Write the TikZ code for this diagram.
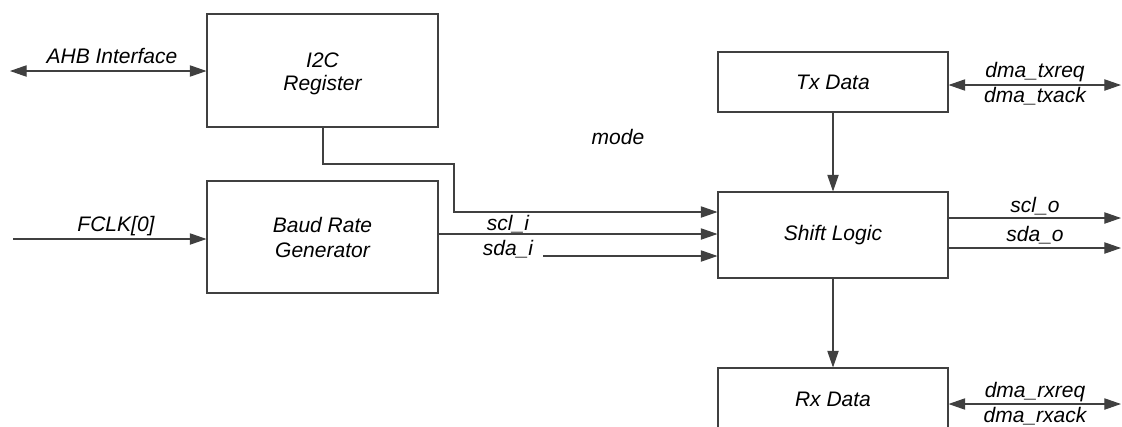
\documentclass[tikz,border=0pt]{standalone}
\usepackage{fontspec}
\setmainfont{Liberation Sans}
\usetikzlibrary{arrows.meta}
\tikzset{
  ln/.style={draw=black!75, line width=0.8pt},
  arr/.style={ln, -{Triangle[length=12.5pt,width=8.5pt]}},
  biarr/.style={ln, {Triangle[length=12.5pt,width=8.5pt]}-{Triangle[length=12.5pt,width=8.5pt]}},
  blk/.style={ln, fill=white, rectangle, inner sep=0pt, align=center, font=\itshape},
  lbl/.style={anchor=base, inner sep=0pt, font=\itshape}
}
\begin{document}
\begin{tikzpicture}[x=0.75pt, y=-0.75pt]
\fontsize{15.75}{18.75}\selectfont
\useasboundingbox (0,0) rectangle (1122,426);
\clip (0,0) rectangle (1122,426);
% blocks
\node[blk, minimum width=231*0.75pt, minimum height=113*0.75pt] (i2c) at (322.5,70.5) {};
\node[blk, minimum width=231*0.75pt, minimum height=112*0.75pt] (baud) at (322.5,237) {Baud Rate\\Generator};
\node[blk, minimum width=230*0.75pt, minimum height=60*0.75pt] (tx) at (833,82) {Tx Data};
\node[blk, minimum width=230*0.75pt, minimum height=86*0.75pt] (shift) at (833,235) {Shift Logic};
\node[blk, minimum width=230*0.75pt, minimum height=62*0.75pt] (rx) at (833,399) {Rx Data};
\node[lbl] (li2c) at (322.5,67) {I2C};
\node[lbl] (lreg) at (322.5,90) {Register};
% free ends
\coordinate (ahb) at (10,71);
\coordinate (fclk) at (13,239);
\coordinate (mA) at (323,164);
\coordinate (mB) at (454,212);
\coordinate (sclA) at (0,234);
\coordinate (sdaA) at (543,256);
\coordinate (txR) at (1121,85);
\coordinate (rxR) at (1121,404);
\coordinate (sclO) at (1121,218);
\coordinate (sdaO) at (1121,248);
% connectors
\draw[biarr] (ahb) -- (i2c.west |- ahb);
\draw[arr] (fclk) -- (baud.west |- fclk);
\draw[arr] (i2c.south -| mA) -- (mA) -| (mB) -- (shift.west |- mB);
\draw[arr] (baud.east |- sclA) -- (shift.west |- sclA);
\draw[arr] (sdaA) -- (shift.west |- sdaA);
\draw[arr] (tx.south) -- (shift.north);
\draw[arr] (shift.south) -- (rx.north);
\draw[biarr] (tx.east |- txR) -- (txR);
\draw[biarr] (rx.east |- rxR) -- (rxR);
\draw[arr] (shift.east |- sclO) -- (sclO);
\draw[arr] (shift.east |- sdaO) -- (sdaO);
% labels
\node[lbl] (lahb) at (112,63) {AHB Interface};
\node[lbl] (lfclk) at (116,231) {FCLK[0]};
\node[lbl] (lmode) at (618,144) {mode};
\node[lbl] (lscli) at (508,230) {scl\_i};
\node[lbl] (lsdai) at (508,255) {sda\_i};
\node[lbl] (ltxreq) at (1035,77) {dma\_txreq};
\node[lbl] (ltxack) at (1035,102) {dma\_txack};
\node[lbl] (lsclo) at (1035,212) {scl\_o};
\node[lbl] (lsdao) at (1035,241) {sda\_o};
\node[lbl] (lrxreq) at (1035,397) {dma\_rxreq};
\node[lbl] (lrxack) at (1035,422) {dma\_rxack};
\end{tikzpicture}
\end{document}
